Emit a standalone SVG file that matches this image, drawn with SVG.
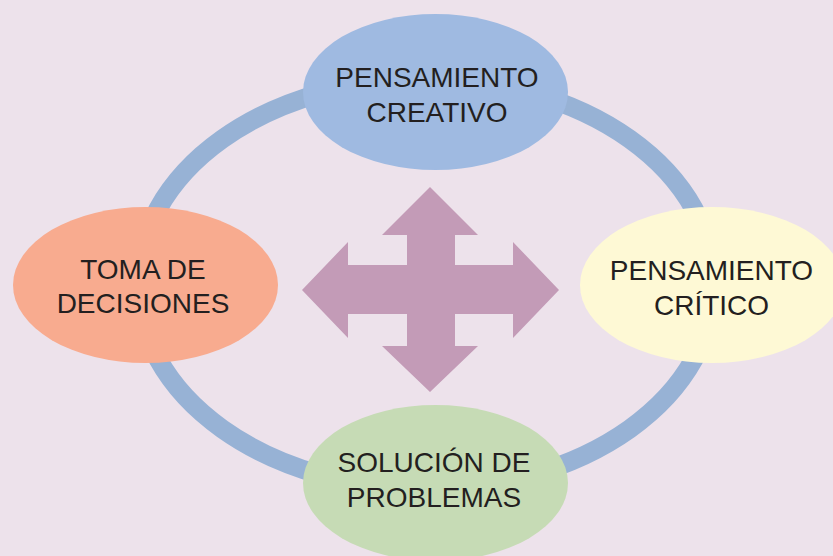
<svg xmlns="http://www.w3.org/2000/svg" width="833" height="556" viewBox="0 0 833 556">
  <style>
    .lbl { font-family: "Liberation Sans", Arial, sans-serif; font-size: 28px; fill: #231f20; text-anchor: middle; }
    .ring { fill: none; stroke: #97b2d5; stroke-width: 19; }
  </style>
  <rect x="0" y="0" width="833" height="556" fill="#ede2eb"/>
  <g id="connectors">
    <ellipse class="ring" cx="426" cy="284" rx="288" ry="205"/>
  </g>
  <g id="center-arrow">
    <polygon fill="#c39bb7" points="430,187 478,235 455,235 455,265 513,265 513,242 559,290 513,338 513,314 455,314 455,346 478,346 430,392 382,346 407,346 407,314 348,314 348,338 302,290 348,242 348,265 407,265 407,235 382,235"/>
  </g>
  <g id="node-creativo">
    <ellipse cx="435.5" cy="92" rx="132.5" ry="78" fill="#9fbae1"/>
    <text class="lbl" x="437" y="87">PENSAMIENTO</text>
    <text class="lbl" x="437" y="122">CREATIVO</text>
  </g>
  <g id="node-decisiones">
    <ellipse cx="145.5" cy="285" rx="132.5" ry="78" fill="#f8ab8f"/>
    <text class="lbl" x="143" y="279">TOMA DE</text>
    <text class="lbl" x="143" y="313">DECISIONES</text>
  </g>
  <g id="node-critico">
    <ellipse cx="712" cy="285" rx="132" ry="78" fill="#fef9d5"/>
    <text class="lbl" x="711.5" y="280">PENSAMIENTO</text>
    <text class="lbl" x="711.5" y="315">CRÍTICO</text>
  </g>
  <g id="node-solucion">
    <ellipse cx="435.5" cy="483" rx="132.5" ry="78" fill="#c6dbb5"/>
    <text class="lbl" x="434" y="472">SOLUCIÓN DE</text>
    <text class="lbl" x="434" y="507">PROBLEMAS</text>
  </g>
</svg>
